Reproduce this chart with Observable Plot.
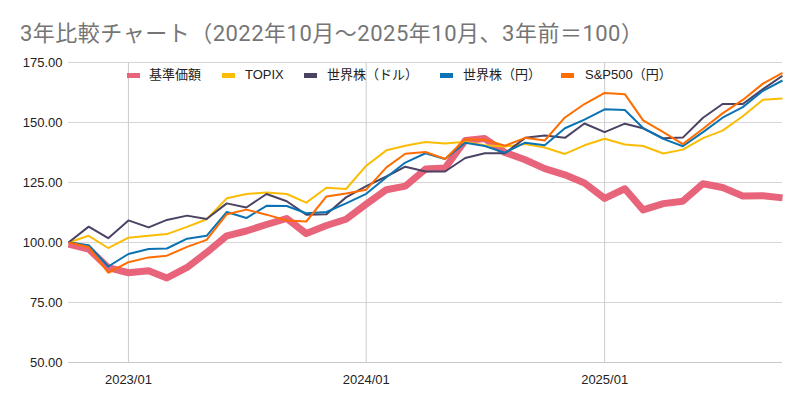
<!DOCTYPE html>
<html>
<head>
<meta charset="utf-8">
<script src="https://cdn.jsdelivr.net/npm/d3@7"></script>
<script src="https://cdn.jsdelivr.net/npm/@observablehq/plot@0.6"></script>
<style>
  html, body { margin: 0; padding: 0; background: #fff; }
  #wrap { position: relative; width: 800px; height: 403px; font-family: "Liberation Sans", Arial, "Noto Sans CJK JP", sans-serif; }
  #title { position: absolute; left: 20px; top: 15px; font-size: 22px; letter-spacing: 0.5px; color: #757575; font-family: Roboto, "Noto Sans CJK JP", sans-serif; white-space: nowrap; }
  #legend { position: absolute; top: 66px; left: 0; height: 18px; font-size: 13px; color: #222; }
  .item { position: absolute; top: 0; white-space: nowrap; line-height: 18px; font-family: "Liberation Sans", Arial, "Noto Sans CJK JP", sans-serif; }
  .sw { position: absolute; top: 7px; width: 13px; height: 5px; }
  #chart { position: absolute; left: 0; top: 0; }
</style>
</head>
<body>
<div id="wrap">
  <div id="chart"></div>
  <div id="title">3年比較チャート（2022年10月～2025年10月、3年前＝100）</div>
  <div id="legend"></div>
</div>
<script>
const months = [
  "2022-10","2022-11","2022-12",
  "2023-01","2023-02","2023-03","2023-04","2023-05","2023-06","2023-07","2023-08","2023-09","2023-10","2023-11","2023-12",
  "2024-01","2024-02","2024-03","2024-04","2024-05","2024-06","2024-07","2024-08","2024-09","2024-10","2024-11","2024-12",
  "2025-01","2025-02","2025-03","2025-04","2025-05","2025-06","2025-07","2025-08","2025-09","2025-10"
];
const seriesNames = ["基準価額", "TOPIX", "世界株（ドル）", "世界株（円）", "S&P500（円）"];
const seriesColors = ["#e8647b", "#fbbc04", "#4b4264", "#0b73b3", "#ff6d01"];
const kijun = [99.3, 97.3, 89.5, 87.4, 88.2, 85.2, 89.6, 95.8, 102.8, 104.8, 107.5, 110, 103.7, 107.1, 109.7, 116, 122, 123.5, 130.6, 131, 142.5, 143.3, 137.5, 134.5, 130.8, 128.2, 124.8, 118.4, 122.4, 113.6, 116.2, 117.2, 124.5, 122.9, 119.4, 119.5, 118.6];
const topix = [100, 102.8, 97.7, 102, 102.8, 103.5, 106.5, 109.7, 118.4, 120.2, 120.8, 120.2, 116.6, 122.8, 122.3, 132, 138.4, 140.3, 141.9, 141.2, 142, 140.5, 140, 141, 139.6, 136.9, 140.5, 143.2, 140.8, 140.2, 137.1, 138.7, 143.5, 146.6, 152.6, 159.5, 160];
const worldUsd = [100, 106.6, 101.8, 109.2, 106.3, 109.4, 111.2, 109.8, 116.3, 114.6, 120.2, 117.2, 111.6, 111.8, 118.8, 123.5, 127.5, 131.6, 129.6, 129.6, 135.2, 137.2, 137.2, 143.6, 144.6, 143.6, 149.6, 146, 149.5, 147.6, 143.4, 143.7, 152, 157.7, 157.7, 163.9, 169.5];
const worldJpy = [100, 98.9, 90, 95.2, 97.3, 97.5, 101.6, 102.8, 112.7, 110.2, 115.3, 115.2, 112.2, 112.7, 116.3, 120.3, 127.2, 133.3, 137.2, 134.8, 141.6, 140.2, 137.4, 141.6, 140.5, 147.6, 151.2, 155.5, 155.2, 147.7, 143.2, 140.1, 146, 152, 156.4, 163.2, 167.5];
const sp500Jpy = [100, 98.1, 87.4, 91.8, 93.8, 94.5, 98.2, 101.1, 111.8, 113.7, 111.6, 109.2, 108.75, 119.2, 120.4, 122, 131.3, 137, 137.7, 134.8, 143, 142.8, 140.3, 143.6, 142.5, 152.1, 157.7, 162.3, 161.8, 150.9, 146, 141, 147.4, 153.8, 159.4, 166.2, 170.7];
const yTicks = [50, 75, 100, 125, 150, 175];
const xTickLabels = ["2023-01", "2024-01", "2025-01"];

const allSeries = [kijun, topix, worldUsd, worldJpy, sp500Jpy];
const parse = d3.utcParse("%Y-%m");
const dates = months.map(parse);
const xTicks = xTickLabels.map(parse);
const rows = [];
allSeries.forEach((vals, si) => {
  vals.forEach((v, i) => rows.push({series: seriesNames[si], date: dates[i], value: v}));
});

const lineMarks = seriesNames.map((name, si) =>
  Plot.line(rows.filter(r => r.series === name), {
    x: "date", y: "value",
    stroke: seriesColors[si],
    strokeWidth: si === 0 ? 7 : 2,
    strokeLinejoin: "round",
    strokeLinecap: "butt"
  })
);

const chart = Plot.plot({
  width: 800,
  height: 403,
  marginLeft: 68,
  marginRight: 18,
  marginTop: 62,
  marginBottom: 41,
  style: {fontSize: "13px", fontFamily: "'Liberation Sans', Arial, sans-serif", color: "#222", background: "#fff"},
  x: {type: "utc", domain: [dates[0], dates[dates.length - 1]]},
  y: {domain: [50, 175]},
  marks: [
    Plot.ruleY(yTicks, {y: d => d, stroke: "#d6d6d6", strokeWidth: 1}),
    Plot.ruleX(xTicks, {x: d => d, stroke: "#cccccc", strokeWidth: 1}),
    Plot.ruleY([50], {stroke: "#c8c8c8", strokeWidth: 1.2}),
    ...lineMarks,
    Plot.axisY({ticks: yTicks, tickSize: 0, tickPadding: 6, tickFormat: d3.format(".2f"), label: null, fill: "#222"}),
    Plot.axisX({ticks: xTicks, tickSize: 0, tickPadding: 12, tickFormat: d3.utcFormat("%Y/%m"), label: null, fill: "#222"})
  ]
});
document.getElementById("chart").appendChild(chart);

const legendPos = [[127, 149], [222, 245], [304, 327], [440, 463], [561, 585]];
const legend = document.getElementById("legend");
seriesNames.forEach((name, i) => {
  const sw = document.createElement("div");
  sw.className = "sw";
  sw.style.left = legendPos[i][0] + "px";
  sw.style.background = seriesColors[i];
  legend.appendChild(sw);
  const t = document.createElement("div");
  t.className = "item";
  t.style.left = legendPos[i][1] + "px";
  t.textContent = name;
  legend.appendChild(t);
});
</script>
</body>
</html>
